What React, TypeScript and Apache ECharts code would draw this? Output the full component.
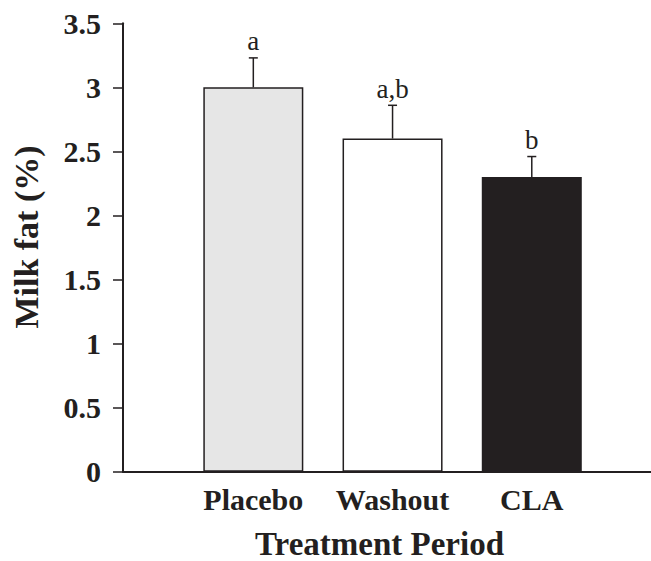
import React, { useEffect, useRef } from "react";
import * as echarts from "echarts";

const categories = ["Placebo", "Washout", "CLA"];
const means = [3.0, 2.6, 2.3];
const errors = [0.23, 0.26, 0.16];
const letters = ["a", "a,b", "b"];
const barColors = ["#e6e6e6", "#ffffff", "#231f20"];
const yTicks = { min: 0, max: 3.5, interval: 0.5 };

const SERIF = '"Liberation Serif", "Times New Roman", serif';
const INK = "#231f20";

export default function App() {
  const ref = useRef<HTMLDivElement>(null);
  useEffect(() => {
    document.body.style.margin = "0";
    const chart = echarts.init(ref.current!, null, { renderer: "svg" });
    const top = 23.3;
    const bottom = 89.3;
    chart.setOption({
      animation: false,
      backgroundColor: "#ffffff",
      grid: [
        { left: 123, right: 0, top, bottom },
        { left: 183.7, right: 49.6, top, bottom },
      ],
      xAxis: [
        {
          type: "category",
          gridIndex: 0,
          data: categories,
          axisLine: { show: true, lineStyle: { color: INK, width: 2 } },
          axisTick: { show: false },
          axisLabel: { show: false },
          splitLine: { show: false },
        },
        {
          type: "category",
          gridIndex: 1,
          data: categories,
          axisLine: { show: false },
          axisTick: { show: false },
          axisLabel: {
            show: true,
            interval: 0,
            margin: 13,
            color: INK,
            fontFamily: SERIF,
            fontWeight: "bold",
            fontSize: 30,
          },
        },
      ],
      yAxis: [
        {
          type: "value",
          gridIndex: 0,
          min: yTicks.min,
          max: yTicks.max,
          interval: yTicks.interval,
          axisLine: { show: true, lineStyle: { color: INK, width: 2 } },
          axisTick: { show: true, length: 10, inside: false, lineStyle: { color: INK, width: 1.5 } },
          axisLabel: {
            margin: 22,
            color: INK,
            fontFamily: SERIF,
            fontWeight: "bold",
            fontSize: 30,
          },
          splitLine: { show: false },
        },
        {
          type: "value",
          gridIndex: 1,
          min: yTicks.min,
          max: yTicks.max,
          interval: yTicks.interval,
          show: false,
          splitLine: { show: false },
        },
      ],
      series: [
        {
          type: "bar",
          xAxisIndex: 1,
          yAxisIndex: 1,
          barWidth: 100,
          data: means.map((v, i) => ({
            value: v,
            itemStyle: { color: barColors[i], borderColor: INK, borderWidth: 1.5 },
          })),
        },
        {
          type: "custom",
          xAxisIndex: 1,
          yAxisIndex: 1,
          z: 5,
          data: means.map((m, i) => [i, m, m + errors[i]]),
          renderItem: (params: any, api: any) => {
            const idx = params.dataIndex;
            const base = api.coord([api.value(0), api.value(1)]);
            const tip = api.coord([api.value(0), api.value(2)]);
            const half = 4.5;
            return {
              type: "group",
              children: [
                {
                  type: "line",
                  shape: { x1: tip[0], y1: base[1], x2: tip[0], y2: tip[1] },
                  style: { stroke: INK, lineWidth: 1.5 },
                },
                {
                  type: "line",
                  shape: { x1: tip[0] - half, y1: tip[1], x2: tip[0] + half, y2: tip[1] },
                  style: { stroke: INK, lineWidth: 1.5 },
                },
                {
                  type: "text",
                  x: tip[0],
                  y: tip[1] - 3,
                  style: {
                    text: letters[idx],
                    fontFamily: SERIF,
                    fontSize: 27,
                    fill: INK,
                    align: "center",
                    verticalAlign: "bottom",
                  },
                },
              ],
            };
          },
        },
      ],
      graphic: [
        {
          type: "text",
          x: 379.5,
          y: 544,
          style: {
            text: "Treatment Period",
            fontFamily: SERIF,
            fontWeight: "bold",
            fontSize: 33,
            fill: INK,
            align: "center",
            verticalAlign: "middle",
          },
        },
        {
          type: "text",
          x: 26,
          y: 237,
          rotation: Math.PI / 2,
          style: {
            text: "Milk fat (%)",
            fontFamily: SERIF,
            fontWeight: "bold",
            fontSize: 34,
            fill: INK,
            align: "center",
            verticalAlign: "middle",
          },
        },
      ],
    });
    return () => chart.dispose();
  }, []);
  return (
    <div
      ref={ref}
      style={{ position: "fixed", left: 0, top: 0, width: 651, height: 561 }}
    />
  );
}
